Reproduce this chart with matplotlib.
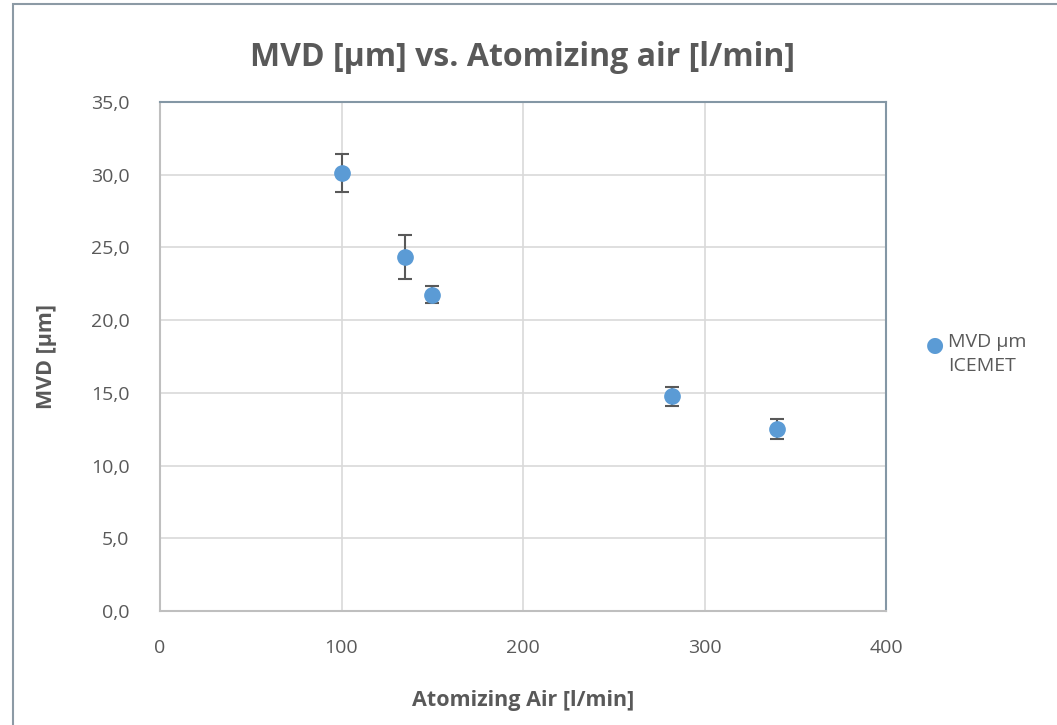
import matplotlib
matplotlib.use("Agg")
import matplotlib.pyplot as plt
from matplotlib.patches import Rectangle
from matplotlib.lines import Line2D
from matplotlib.ticker import FuncFormatter

plt.rcParams["font.family"] = ["Open Sans", "DejaVu Sans"]

# data
air_flow = [100, 135, 150, 282, 340]
mvd = [30.1, 24.35, 21.75, 14.75, 12.5]
mvd_err = [1.3, 1.5, 0.6, 0.65, 0.7]

x_ticks = [0, 100, 200, 300, 400]
y_ticks = [0, 5, 10, 15, 20, 25, 30, 35]

text_col = "#595959"
dot_col = "#5b9bd5"
fig = plt.figure(figsize=(10.57, 7.25), dpi=100)
ax = fig.add_axes([160 / 1057, 1 - 611 / 725, 726 / 1057, 509 / 725])

# outer chart border (runs off the right and bottom edges)
fig.patches.append(Rectangle((13 / 1057, -0.1), 1.1, 1.1 - 4 / 725, transform=fig.transFigure,
                             fill=False, edgecolor="#8c9aa5", linewidth=1.5))

ax.errorbar(air_flow, mvd, yerr=mvd_err, fmt="o", color=dot_col, markersize=11,
            ecolor="#595959", elinewidth=1.5, capsize=5, capthick=1.5, zorder=3)

ax.set_xlim(0, 400)
ax.set_ylim(0, 35)
ax.set_xticks(x_ticks)
ax.set_yticks(y_ticks)
ax.yaxis.set_major_formatter(FuncFormatter(lambda v, p: f"{v:.1f}".replace(".", ",")))
ax.grid(True, color="#d9d9d9", linewidth=1.2)
ax.set_axisbelow(True)
ax.tick_params(length=0, labelsize=14, colors=text_col)
ax.tick_params(axis="x", pad=20)
ax.tick_params(axis="y", pad=22)
for s in ["top", "right"]:
    ax.spines[s].set_color("#8497a5")
    ax.spines[s].set_linewidth(1.5)
for s in ["bottom", "left"]:
    ax.spines[s].set_color("#bfbfbf")
    ax.spines[s].set_linewidth(1.5)

ax.set_title("MVD [µm] vs. Atomizing air [l/min]", fontsize=23, fontweight="bold",
             color=text_col, pad=26)
ax.set_xlabel("Atomizing Air [l/min]", fontsize=15.5, fontweight="bold", color=text_col, labelpad=24)
ax.set_ylabel("MVD [µm]", fontsize=15.5, fontweight="bold", color=text_col, labelpad=24)

# legend: marker next to the first line, second line wraps under the text
fig.text(935 / 1057, 1 - 345 / 725, "\u25CF", color=dot_col, fontsize=15,
         ha="center", va="center", family="DejaVu Sans")
fig.text(948 / 1057, 1 - 345 / 725, "MVD µm\nICEMET", color=text_col, fontsize=14,
         ha="left", va="top", linespacing=1.45,
         transform=fig.transFigure).set_y(1 - 333 / 725)

plt.savefig("out.png")
